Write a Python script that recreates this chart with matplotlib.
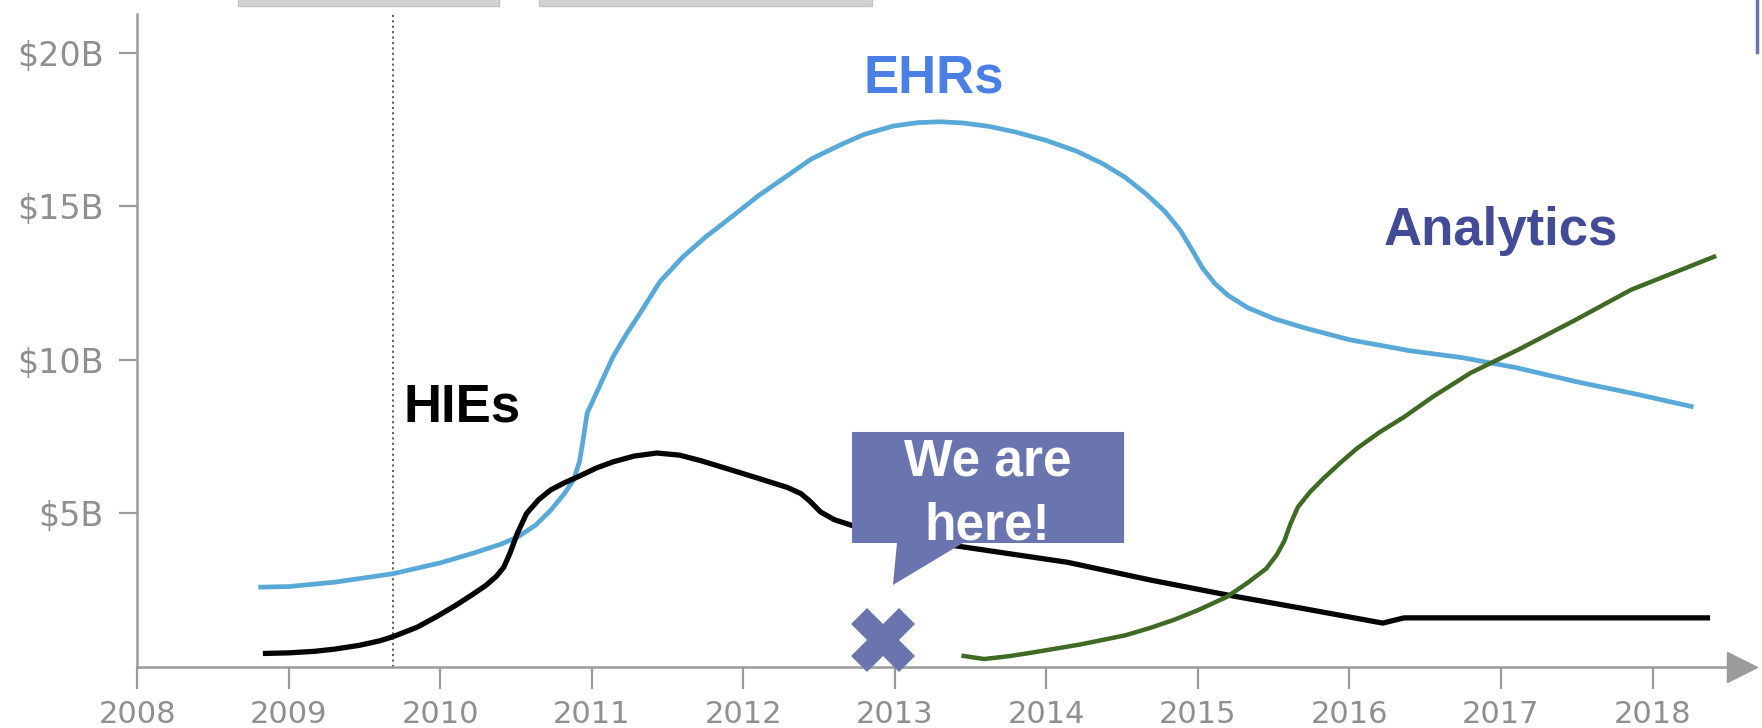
"""
Health IT spending waves: HIEs -> EHRs -> Analytics, with a "We are here!" callout.
"""

import matplotlib
matplotlib.use("Agg")
import matplotlib.pyplot as plt
from matplotlib.patches import Polygon, Rectangle
from matplotlib.lines import Line2D

# ---- data (years, $B) ----
ehr_years = [2008.80, 2009.00, 2009.30, 2009.69, 2010.00, 2010.22, 2010.40, 2010.51,
             2010.63, 2010.73, 2010.82, 2010.88, 2010.92, 2010.94, 2010.97, 2011.04,
             2011.14, 2011.23, 2011.32, 2011.45, 2011.60, 2011.75, 2011.92, 2012.10,
             2012.29, 2012.45, 2012.66, 2012.80, 2012.99, 2013.15, 2013.30, 2013.45,
             2013.62, 2013.80, 2014.00, 2014.20, 2014.37, 2014.52, 2014.66, 2014.78,
             2014.88, 2014.96, 2015.03, 2015.11, 2015.20, 2015.33, 2015.50, 2015.70,
             2016.00, 2016.40, 2016.74, 2017.10, 2017.49, 2017.90, 2018.27]
ehr_values = [2.60, 2.62, 2.76, 3.04, 3.39, 3.71, 4.00, 4.23,
              4.62, 5.11, 5.65, 6.09, 6.70, 7.30, 8.27, 9.02,
              10.10, 10.85, 11.53, 12.55, 13.35, 14.00, 14.65, 15.35,
              16.00, 16.55, 17.05, 17.35, 17.62, 17.73, 17.76, 17.72,
              17.61, 17.42, 17.15, 16.80, 16.40, 15.95, 15.40, 14.85,
              14.25, 13.60, 13.00, 12.50, 12.10, 11.70, 11.35, 11.05,
              10.66, 10.30, 10.08, 9.75, 9.30, 8.88, 8.47]

hie_years = [2008.83, 2009.00, 2009.17, 2009.30, 2009.46, 2009.60, 2009.69, 2009.85,
             2009.98, 2010.10, 2010.21, 2010.30, 2010.37, 2010.42, 2010.46, 2010.51,
             2010.57, 2010.65, 2010.73, 2010.82, 2010.92, 2011.03, 2011.14, 2011.28,
             2011.43, 2011.58, 2011.72, 2011.90, 2012.09, 2012.29, 2012.38, 2012.44,
             2012.51, 2012.60, 2012.73, 2013.03, 2013.48, 2014.14, 2014.69, 2015.19,
             2015.70, 2016.22, 2016.36, 2018.38]
hie_values = [0.44, 0.46, 0.51, 0.58, 0.70, 0.85, 0.99, 1.30,
              1.65, 2.00, 2.35, 2.65, 2.95, 3.25, 3.70, 4.36,
              5.00, 5.45, 5.77, 6.00, 6.22, 6.48, 6.68, 6.87,
              6.97, 6.90, 6.72, 6.45, 6.16, 5.85, 5.65, 5.40,
              5.05, 4.80, 4.59, 4.22, 3.89, 3.41, 2.83, 2.35,
              1.90, 1.43, 1.60, 1.60]

analytics_years = [2013.44, 2013.59, 2013.75, 2013.92, 2014.22, 2014.52, 2014.69, 2014.85,
                   2015.00, 2015.19, 2015.33, 2015.45, 2015.52, 2015.57, 2015.61, 2015.66,
                   2015.74, 2015.83, 2015.94, 2016.05, 2016.20, 2016.36, 2016.55, 2016.80,
                   2017.12, 2017.49, 2017.86, 2018.42]
analytics_values = [0.37, 0.26, 0.35, 0.48, 0.73, 1.03, 1.28, 1.55,
                    1.85, 2.28, 2.75, 3.20, 3.65, 4.10, 4.65, 5.21,
                    5.70, 6.15, 6.65, 7.12, 7.65, 8.14, 8.80, 9.58,
                    10.35, 11.30, 12.29, 13.39]

year_ticks = list(range(2008, 2019))
value_ticks = [5, 10, 15, 20]
value_labels = ["$5B", "$10B", "$15B", "$20B"]

hitech_year = 2009.69          # dotted vertical marker
here_point = (2012.92, 0.88)   # the "X"

# ---- colours ----
EHR_C = "#59a9d8"
HIE_C = "#050505"
ANA_C = "#3e6a24"
CALLOUT_C = "#6a75b0"
AXIS_C = "#9b9b9b"
TICKTXT_C = "#8f8f8f"

fig = plt.figure(figsize=(17.62, 7.28), dpi=100)
ax = fig.add_axes([0.0778, 0.0838, 0.9108, 0.8970])

line_kw = dict(solid_capstyle="butt", solid_joinstyle="round")
ax.plot(ehr_years, ehr_values, color=EHR_C, lw=3.4, **line_kw)
ax.plot(hie_years, hie_values, color=HIE_C, lw=3.8, **line_kw)
ax.plot(analytics_years, analytics_values, color=ANA_C, lw=3.2, **line_kw)

ax.axvline(hitech_year, color="#555555", lw=1.3, ls=(0, (1.2, 1.8)), zorder=1)

ax.set_xlim(2008, 2018.59)
ax.set_ylim(0, 21.27)

# axes styling
for s in ("top", "right"):
    ax.spines[s].set_visible(False)
for s in ("left", "bottom"):
    ax.spines[s].set_color(AXIS_C)
    ax.spines[s].set_linewidth(1.8)
ax.plot(1, 0, ">", color=AXIS_C, ms=22, transform=ax.transAxes, clip_on=False)

ax.set_xticks(year_ticks)
ax.set_xticklabels([str(y) for y in year_ticks])
ax.set_yticks(value_ticks)
ax.set_yticklabels(value_labels)
ax.tick_params(axis="x", length=16, width=1.6, color=AXIS_C, pad=8,
               labelsize=22, labelcolor=TICKTXT_C)
ax.tick_params(axis="y", length=13, width=1.6, color=AXIS_C, pad=11,
               labelsize=24, labelcolor=TICKTXT_C)
for lab in ax.get_xticklabels() + ax.get_yticklabels():
    lab.set_family("DejaVu Sans")

# series labels
lab_font = dict(family=["Liberation Sans", "DejaVu Sans"], weight="bold", fontsize=38)
ax.text(2013.26, 18.70, "EHRs", color="#4a80e6", ha="center", va="baseline", **lab_font)
ax.text(2017.00, 13.75, "Analytics", color="#424b96", ha="center", va="baseline", **lab_font)
ax.text(2009.76, 7.98, "HIEs", color="#000000", ha="left", va="baseline", **lab_font)

# "We are here!" callout (axes-fraction geometry)
callout = Polygon([(0.4455, 0.3599), (0.6150, 0.3599), (0.6150, 0.1899),
                   (0.5146, 0.1899), (0.4710, 0.1256), (0.4735, 0.1899),
                   (0.4455, 0.1899)],
                  closed=True, transform=ax.transAxes, facecolor=CALLOUT_C,
                  edgecolor="none", zorder=5)
ax.add_patch(callout)
call_font = dict(family=["Liberation Sans", "DejaVu Sans"], weight="bold", fontsize=37,
                 color="white", ha="center", va="baseline", transform=ax.transAxes, zorder=6)
ax.text(0.530, 0.2940, "We are", **call_font)
ax.text(0.530, 0.1960, "here!", **call_font)

ax.plot([here_point[0]], [here_point[1]], marker="X", ms=46, mew=0,
        color=CALLOUT_C, clip_on=False, zorder=6)

# bits of UI cropped at the top edge of the screenshot
for x0, x1 in [(0.135, 0.283), (0.306, 0.495)]:
    fig.patches.append(Rectangle((x0, 0.992), x1 - x0, 0.02, transform=fig.transFigure,
                                 facecolor="#d2d2d2", edgecolor="#c4c4c4", lw=1))
fig.lines.append(Line2D([0.9972, 0.9972], [1.0, 0.929], transform=fig.transFigure,
                        color=CALLOUT_C, lw=2.5))

fig.savefig("out.png", dpi=100)
